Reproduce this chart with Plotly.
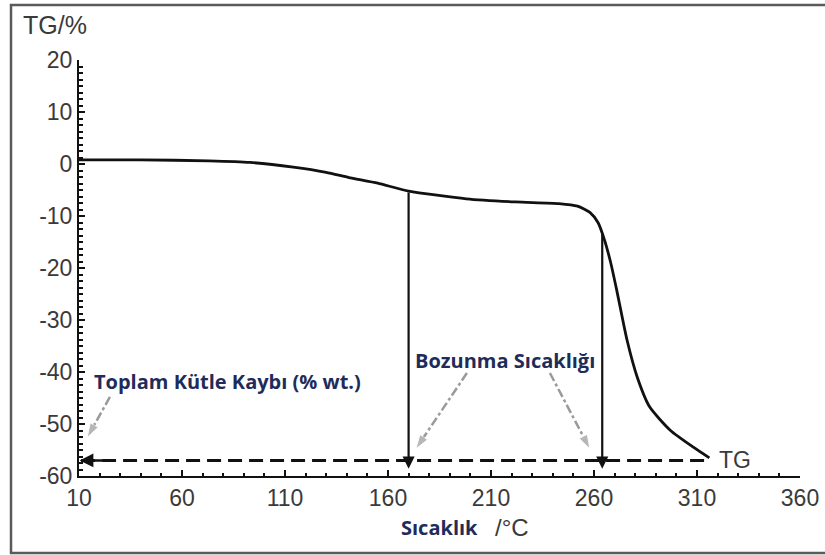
import plotly.graph_objects as go

# ---- data ----
temperature = [10, 40, 73, 93, 114, 130, 141, 155, 170, 198, 222, 243, 252, 258, 262, 265,
               268, 271, 276, 281, 287, 297, 308, 316]
tg_percent = [0.8, 0.8, 0.6, 0.3, -0.6, -1.6, -2.6, -3.7, -5.2, -6.7, -7.3, -7.6, -8.1, -9.3,
              -11.3, -14.5, -18.8, -24.2, -33.8, -41.0, -46.7, -51.2, -54.4, -56.5]
decomp_temps = [170, 264]
decomp_tg = [-5.2, -13.2]
total_loss = -57.0
x_ticks = [10, 60, 110, 160, 210, 260, 310, 360]
y_ticks = [20, 10, 0, -10, -20, -30, -40, -50, -60]

INK = "#111111"
GRAY = "#9a9a9a"
NAVY = "#1f2c5a"
TXT = "#3a3a3a"
LABEL_FONT = "Open Sans"

fig = go.Figure()

# TG curve
fig.add_trace(go.Scatter(x=temperature, y=tg_percent, mode="lines",
                         line=dict(color=INK, width=2.8, shape="spline", smoothing=0.6),
                         hoverinfo="skip", showlegend=False))

# dashed total mass loss line
fig.add_trace(go.Scatter(x=[temperature[0] + 1, temperature[-1]], y=[total_loss, total_loss],
                         mode="lines", line=dict(color=INK, width=3, dash="14px,7px"),
                         showlegend=False, hoverinfo="skip"))

# vertical arrows at decomposition temperatures
for t, v in zip(decomp_temps, decomp_tg):
    fig.add_annotation(x=t, y=total_loss - 1.6, ax=t, ay=v, xref="x", yref="y",
                       axref="x", ayref="y", text="", showarrow=True,
                       arrowhead=2, arrowsize=1.1, arrowwidth=2.2, arrowcolor=INK)

# left arrow to y axis
fig.add_annotation(x=10.3, y=total_loss, ax=22, ay=total_loss, xref="x", yref="y",
                   axref="x", ayref="y", text="", showarrow=True,
                   arrowhead=2, arrowsize=1.1, arrowwidth=2.5, arrowcolor=INK)

# gray dash-dot pointer arrows
pointers = [
    ([25.0, 14.0], [-44.8, -52.6]),
    ([198.3, 173.5], [-40.2, -54.8]),
    ([238.6, 258.0], [-40.2, -54.8]),
]
for px, py in pointers:
    fig.add_trace(go.Scatter(x=px, y=py, mode="lines+markers",
                             line=dict(color=GRAY, width=2.5, dash="dashdot"),
                             marker=dict(symbol=["circle", "arrow"], size=[0, 15],
                                         angleref="previous", color=GRAY),
                             showlegend=False, hoverinfo="skip"))

# texts
fig.add_annotation(x=16.3, y=-41.9, xref="x", yref="y", text="<b>Toplam Kütle Kaybı (% wt.)</b>",
                   showarrow=False, xanchor="left", yanchor="middle",
                   font=dict(family=LABEL_FONT, size=20, color=NAVY))
fig.add_annotation(x=217, y=-37.7, xref="x", yref="y", text="<b>Bozunma Sıcaklığı</b>",
                   showarrow=False, xanchor="center", yanchor="middle",
                   font=dict(family=LABEL_FONT, size=20, color=NAVY))
fig.add_annotation(x=319.5, y=-56.9, xref="x", yref="y", text="TG",
                   showarrow=False, xanchor="left", yanchor="middle",
                   font=dict(family="Liberation Sans", size=23, color=TXT))
fig.add_annotation(x=-0.081, y=1.084, xref="paper", yref="paper", text="TG/%",
                   showarrow=False, xanchor="left", yanchor="middle",
                   font=dict(family="Liberation Sans", size=25, color=TXT))
fig.add_annotation(x=184.8, y=-0.1226, xref="x", yref="paper", text="<b>Sıcaklık</b>",
                   showarrow=False, xanchor="center", yanchor="middle",
                   font=dict(family=LABEL_FONT, size=20, color=NAVY))
fig.add_annotation(x=211, y=-0.1226, xref="x", yref="paper", text="/°C",
                   showarrow=False, xanchor="left", yanchor="middle",
                   font=dict(family="Liberation Sans", size=24, color=TXT))

# outer frame (right edge lies beyond the visible page)
fig.add_shape(type="rect", xref="paper", yref="paper", x0=-0.0943, x1=1.2, y0=-0.185, y1=1.132,
              line=dict(color="#5a5a5a", width=2.5), fillcolor="rgba(0,0,0,0)", layer="below")

axis_font = dict(family="Liberation Sans", size=23, color=TXT)
fig.update_xaxes(range=[10, 360], tickvals=x_ticks, ticktext=[str(v) for v in x_ticks],
                 showline=True, linecolor=INK, linewidth=2, ticks="inside", ticklen=6,
                 tickwidth=1.5, tickcolor=INK, showgrid=False, zeroline=False,
                 tickfont=axis_font, automargin=False,
                 minor=dict(dtick=10, tick0=10, ticks="inside", ticklen=3, tickcolor=INK, showgrid=False))
fig.update_yaxes(range=[-60, 20], tickvals=y_ticks, ticktext=[str(v) for v in y_ticks],
                 showline=True, linecolor=INK, linewidth=2, ticks="inside", ticklen=6,
                 tickwidth=1.5, tickcolor=INK, showgrid=False, zeroline=False,
                 tickfont=axis_font, automargin=False,
                 minor=dict(dtick=1.25, tick0=0, ticks="inside", ticklen=4, tickcolor=INK, showgrid=False))

fig.update_layout(width=825, height=555, plot_bgcolor="white", paper_bgcolor="white",
                  margin=dict(l=79, r=25, t=60, b=79), showlegend=False)

fig.write_html("out.html", config={"displayModeBar": False},
               post_script="document.body.style.margin='0';document.body.style.overflow='hidden';")
